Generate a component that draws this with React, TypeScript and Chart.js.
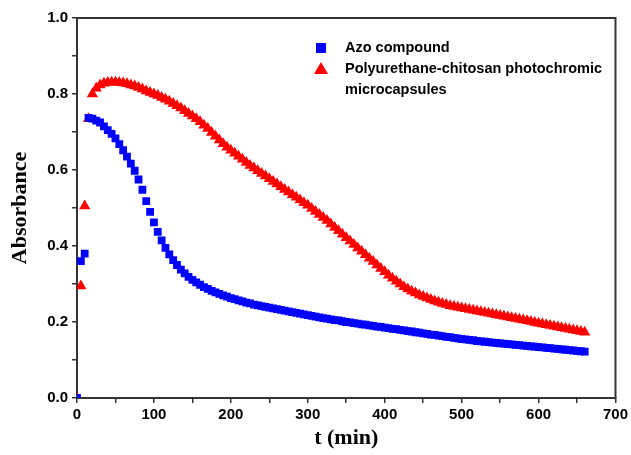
import React, { useEffect, useRef } from "react";
import { Chart, registerables } from "chart.js";

Chart.register(...registerables);

const seriesLabels = ["Azo compound", "Polyurethane-chitosan photochromic microcapsules"];
const legendLines = [["Azo compound"], ["Polyurethane-chitosan photochromic", "microcapsules"]];

const azoTimes = [
  0, 5, 10, 15, 20, 25, 30, 35, 40, 45, 50, 55, 60, 65, 70, 75, 80, 85, 90, 95,
  100, 105, 110, 115, 120, 125, 130, 135, 140, 145, 150, 155, 160, 165, 170, 175, 180, 185, 190, 195,
  200, 205, 210, 215, 220, 225, 230, 235, 240, 245, 250, 255, 260, 265, 270, 275, 280, 285, 290, 295,
  300, 305, 310, 315, 320, 325, 330, 335, 340, 345, 350, 355, 360, 365, 370, 375, 380, 385, 390, 395,
  400, 405, 410, 415, 420, 425, 430, 435, 440, 445, 450, 455, 460, 465, 470, 475, 480, 485, 490, 495,
  500, 505, 510, 515, 520, 525, 530, 535, 540, 545, 550, 555, 560, 565, 570, 575, 580, 585, 590, 595,
  600, 605, 610, 615, 620, 625, 630, 635, 640, 645, 650, 655, 660,
];
const azoValues = [
  0, 0.36, 0.38, 0.737, 0.735, 0.73, 0.725, 0.715, 0.705, 0.695, 0.683, 0.668, 0.652, 0.635, 0.617, 0.598, 0.575, 0.548, 0.518, 0.49,
  0.462, 0.437, 0.415, 0.395, 0.378, 0.363, 0.35, 0.338, 0.328, 0.319, 0.311, 0.304, 0.298, 0.292, 0.287, 0.282, 0.278, 0.274, 0.27, 0.267,
  0.263, 0.26, 0.257, 0.254, 0.251, 0.249, 0.246, 0.244, 0.242, 0.24, 0.238, 0.236, 0.234, 0.232, 0.23, 0.228, 0.226, 0.224, 0.222, 0.22,
  0.218, 0.216, 0.214, 0.212, 0.21, 0.209, 0.207, 0.205, 0.204, 0.202, 0.2, 0.199, 0.197, 0.196, 0.194, 0.193, 0.191, 0.19, 0.188, 0.187,
  0.185, 0.184, 0.182, 0.181, 0.179, 0.178, 0.176, 0.175, 0.173, 0.172, 0.17, 0.169, 0.167, 0.166, 0.164, 0.163, 0.161, 0.16, 0.158, 0.157,
  0.155, 0.154, 0.153, 0.152, 0.15, 0.149, 0.148, 0.147, 0.146, 0.145, 0.144, 0.143, 0.142, 0.141, 0.14, 0.139, 0.138, 0.137, 0.136, 0.135,
  0.134, 0.133, 0.132, 0.131, 0.13, 0.129, 0.128, 0.127, 0.126, 0.125, 0.124, 0.123, 0.122,
];

const pcmTimes = azoTimes;
const pcmValues = [
  0, 0.295, 0.505, 0.735, 0.8, 0.815, 0.824, 0.828, 0.83, 0.831, 0.831, 0.83, 0.829, 0.827, 0.824, 0.821, 0.817, 0.813, 0.808, 0.804,
  0.8, 0.796, 0.791, 0.786, 0.781, 0.775, 0.769, 0.763, 0.756, 0.749, 0.742, 0.735, 0.727, 0.718, 0.709, 0.699, 0.689, 0.679, 0.669, 0.66,
  0.652, 0.644, 0.636, 0.628, 0.62, 0.612, 0.605, 0.598, 0.591, 0.584, 0.577, 0.57, 0.563, 0.556, 0.549, 0.542, 0.535, 0.528, 0.521, 0.514,
  0.507, 0.499, 0.491, 0.483, 0.475, 0.467, 0.458, 0.449, 0.44, 0.431, 0.422, 0.413, 0.404, 0.395, 0.386, 0.377, 0.368, 0.359, 0.35, 0.341,
  0.332, 0.323, 0.315, 0.307, 0.3, 0.293, 0.287, 0.281, 0.276, 0.271, 0.267, 0.263, 0.259, 0.255, 0.252, 0.249, 0.246, 0.243, 0.241, 0.239,
  0.237, 0.235, 0.233, 0.231, 0.229, 0.227, 0.225, 0.223, 0.221, 0.219, 0.217, 0.215, 0.213, 0.211, 0.209, 0.207, 0.205, 0.203, 0.201, 0.199,
  0.197, 0.195, 0.193, 0.191, 0.189, 0.187, 0.185, 0.183, 0.181, 0.179, 0.177, 0.175, 0.173,
];

const xTitle = "t (min)";
const yTitle = "Absorbance";
const xMin = 0, xMax = 700, xStep = 50;
const yMin = 0, yMax = 1, yStep = 0.1;

const BLUE = "#0000ff";
const RED = "#ff0000";
const TICK_FONT = { family: "'Liberation Sans', Arial, sans-serif", size: 15, weight: "bold" as const };
const TITLE_FONT = { family: "'Liberation Serif', 'Times New Roman', serif", size: 22, weight: "bold" as const };

const framePlugin = {
  id: "frame",
  afterDatasetsDraw(chart: any) {
    const { ctx, chartArea } = chart;
    ctx.save();
    ctx.strokeStyle = "#333";
    ctx.lineWidth = 2;
    ctx.beginPath();
    ctx.moveTo(chartArea.left, chartArea.top);
    ctx.lineTo(chartArea.right, chartArea.top);
    ctx.lineTo(chartArea.right, chartArea.bottom);
    ctx.stroke();
    ctx.restore();
  },
};

const legendPlugin = {
  id: "customLegend",
  afterDraw(chart: any) {
    const { ctx } = chart;
    ctx.save();
    ctx.font = "bold 14.5px 'Liberation Sans', Arial, sans-serif";
    ctx.textBaseline = "middle";
    const markerX = 321;
    const textX = 345;
    const rows = [48, 69];
    ctx.fillStyle = BLUE;
    ctx.fillRect(markerX - 5, rows[0] - 5, 10, 10);
    ctx.fillStyle = RED;
    ctx.beginPath();
    ctx.moveTo(markerX, rows[1] - 7);
    ctx.lineTo(markerX + 7, rows[1] + 5);
    ctx.lineTo(markerX - 7, rows[1] + 5);
    ctx.closePath();
    ctx.fill();
    ctx.fillStyle = "#000";
    ctx.fillText(legendLines[0][0], textX, rows[0]);
    ctx.fillText(legendLines[1][0], textX, rows[1]);
    ctx.fillText(legendLines[1][1], textX, rows[1] + 21);
    ctx.restore();
  },
};

export default function App() {
  const ref = useRef<HTMLCanvasElement | null>(null);
  useEffect(() => {
    if (!ref.current) return;
    const chart = new Chart(ref.current, {
      type: "scatter",
      data: {
        datasets: [
          {
            label: seriesLabels[0],
            data: azoTimes.map((t, i) => ({ x: t, y: azoValues[i] })),
            pointStyle: "rect",
            pointRadius: 5.5,
            backgroundColor: BLUE,
            borderColor: BLUE,
            borderWidth: 0,
          },
          {
            label: seriesLabels[1],
            data: pcmTimes.map((t, i) => ({ x: t, y: pcmValues[i] })),
            pointStyle: "triangle",
            pointRadius: 6.5,
            backgroundColor: RED,
            borderColor: RED,
            borderWidth: 0,
          },
        ],
      },
      options: {
        animation: false,
        responsive: true,
        maintainAspectRatio: false,
        layout: { padding: { top: 18, right: 14, left: 0, bottom: 0 } },
        plugins: { legend: { display: false }, tooltip: { enabled: false } },
        scales: {
          x: {
            type: "linear",
            min: xMin,
            max: xMax,
            afterFit: (s: any) => { s.height = 57; },
            ticks: {
              stepSize: xStep,
              autoSkip: false,
              maxRotation: 0,
              color: "#000",
              font: TICK_FONT,
              padding: 3,
              callback: (v: any) => (Math.round(v) % 100 === 0 ? String(Math.round(v)) : ""),
            },
            grid: { drawOnChartArea: false, drawTicks: true, tickLength: 5, color: "#333", lineWidth: 1.5 },
            border: { display: true, color: "#333", width: 2 },
            title: { display: true, text: xTitle, color: "#000", font: TITLE_FONT, padding: { top: 2, bottom: 3 } },
          },
          y: {
            type: "linear",
            min: yMin,
            max: yMax,
            afterFit: (s: any) => { s.width = 77; },
            ticks: {
              stepSize: yStep,
              autoSkip: false,
              color: "#000",
              font: TICK_FONT,
              padding: 4,
              callback: (v: any) => (Math.round(v * 10) % 2 === 0 ? Number(v).toFixed(1) : ""),
            },
            grid: { drawOnChartArea: false, drawTicks: true, tickLength: 5, color: "#333", lineWidth: 1.5 },
            border: { display: true, color: "#333", width: 2 },
            title: { display: true, text: yTitle, color: "#000", font: TITLE_FONT, padding: { top: 7, bottom: 4 } },
          },
        },
      },
      plugins: [framePlugin, legendPlugin],
    });
    return () => chart.destroy();
  }, []);
  return (
    <div style={{ position: "absolute", left: 0, top: 0, width: 631, height: 455, background: "#fff" }}>
      <canvas ref={ref} />
    </div>
  );
}
